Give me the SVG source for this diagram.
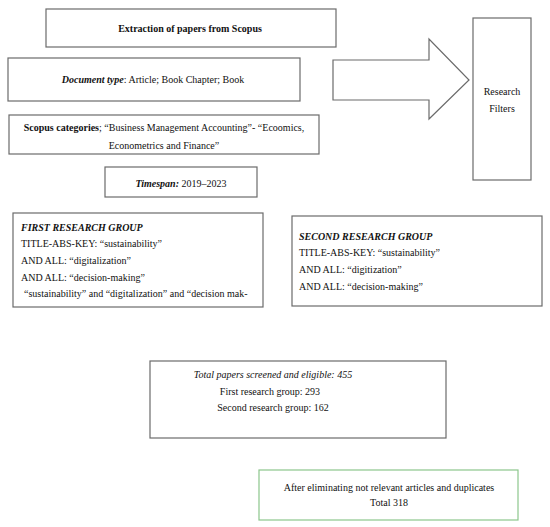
<svg xmlns="http://www.w3.org/2000/svg" width="550" height="527" viewBox="0 0 550 527" font-family="'Liberation Serif', 'DejaVu Serif', serif">
<style>
.b{fill:#fff;stroke:#6b6b6b;stroke-width:1.2}
.g{fill:#fff;stroke:#8cc68c;stroke-width:1.2}
text{font-family:'Liberation Serif','DejaVu Serif',serif;font-size:10px;fill:#111}
.c{text-anchor:middle}
.bd{font-weight:bold}
.it{font-style:italic}
</style>
<rect width="550" height="527" fill="#fff"/>
<g id="connectors">
<path class="b" d="M333,60 H429 V39 L469,80 L429,119 V100 H333 Z"/>
</g>
<g id="extraction">
<rect class="b" x="46" y="9" width="290" height="38"/>
<text class="c bd" x="190" y="32">Extraction of papers from Scopus</text>
</g>
<g id="doctype">
<rect class="b" x="8" y="58" width="292" height="43"/>
<text class="c" x="153" y="83"><tspan class="bd it">Document type</tspan>: Article; Book Chapter; Book</text>
</g>
<g id="categories">
<rect class="b" x="9" y="115" width="310" height="39"/>
<text class="c" x="164" y="131"><tspan class="bd">Scopus categories</tspan>; “Business Management Accounting”- “Ecoomics,</text>
<text class="c" x="164" y="149">Econometrics and Finance”</text>
</g>
<g id="timespan">
<rect class="b" x="105" y="167" width="152" height="30"/>
<text class="c" x="181" y="187"><tspan class="bd it">Timespan:</tspan> 2019–2023</text>
</g>
<g id="filters">
<rect class="b" x="473" y="18" width="58" height="162"/>
<text class="c" x="502" y="95">Research</text>
<text class="c" x="502" y="112">Filters</text>
</g>
<g id="first-group">
<rect class="b" x="13" y="213" width="250" height="94"/>
<text class="bd it" x="21" y="231">FIRST RESEARCH GROUP</text>
<text x="21" y="247">TITLE-ABS-KEY: “sustainability”</text>
<text x="21" y="264">AND ALL: “digitalization”</text>
<text x="21" y="281">AND ALL: “decision-making”</text>
<text x="24" y="297">“sustainability” and “digitalization” and “decision mak-</text>
</g>
<g id="second-group">
<rect class="b" x="292" y="216" width="250" height="90"/>
<text class="bd it" x="299" y="240">SECOND RESEARCH GROUP</text>
<text x="299" y="256">TITLE-ABS-KEY: “sustainability”</text>
<text x="299" y="273">AND ALL: “digitization”</text>
<text x="299" y="290">AND ALL: “decision-making”</text>
</g>
<g id="total">
<rect class="b" x="150" y="361" width="296" height="77"/>
<text class="c it" x="273" y="378">Total papers screened and eligible: 455</text>
<text class="c" x="270" y="395">First research group: 293</text>
<text class="c" x="273" y="411">Second research group: 162</text>
</g>
<g id="final">
<rect class="g" x="259" y="470" width="259" height="50"/>
<text class="c" x="389" y="491">After eliminating not relevant articles and duplicates</text>
<text class="c" x="389" y="506">Total 318</text>
</g>
</svg>
